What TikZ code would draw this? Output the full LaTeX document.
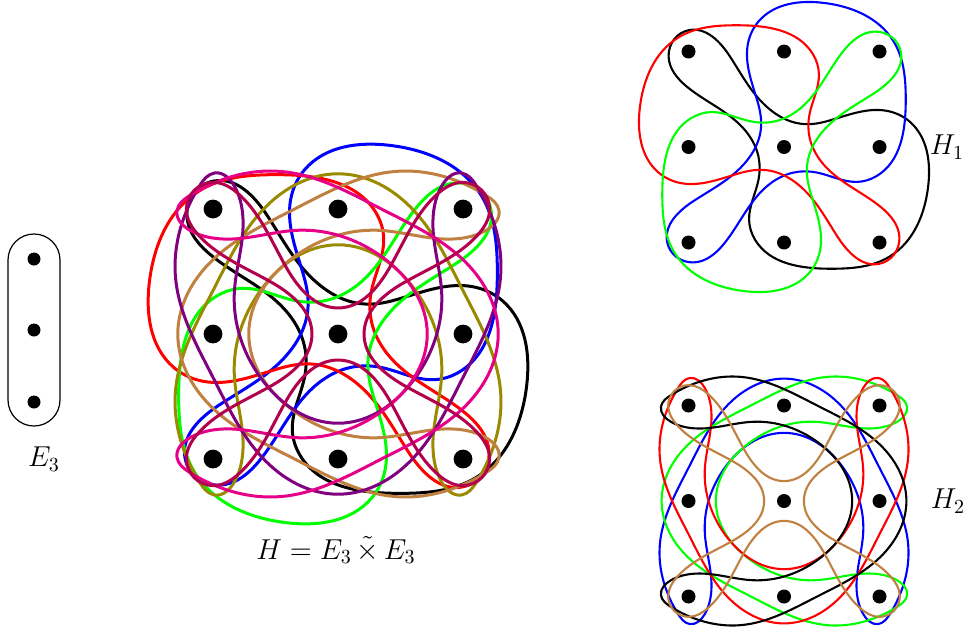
\documentclass[tikz,border=0pt]{standalone}
\usetikzlibrary{hobby}
\definecolor{hgreen}{RGB}{0,255,0}
\definecolor{holive}{RGB}{153,138,0}
\definecolor{hbrown}{RGB}{191,128,64}
\definecolor{hpurple}{RGB}{128,0,128}
\definecolor{hpink}{RGB}{230,0,135}
\definecolor{hcrimson}{RGB}{179,0,77}
\tikzset{
  loopline/.style={use Hobby shortcut,closed=true},
  smalldot/.style={circle,fill=black,inner sep=0pt,minimum size=7pt},
  bigdot/.style={circle,fill=black,inner sep=0pt,minimum size=9.4pt},
  tinydot/.style={circle,fill=black,inner sep=0pt,minimum size=6.5pt},
  lab/.style={inner sep=0pt,font=\fontsize{14}{16}\selectfont},
}
\newcommand\hoopA[2]{\draw[#1,rotate=#2,loopline] (-1,1.223)..(-.564,.944)..(-.268,.509)..(.22,.24)..(.55,.3)..(1.073,.38)..(1.317,.265)..(1.509,-.415)..(1.108,-1.146)..(.481,-1.275)..(-.303,-.972)..(-.366,-.763)..(-.268,-.345)..(-.268,-.1)..(-.425,.195)..(-1.017,.631)..(-1.209,.95);}
\newcommand\hoopB[2]{\draw[#1,rotate=#2,loopline] (0,1.282)..(.55,1.045)..(1,.348)..(1.3,-.453)..(1.108,-1.185)..(.986,-1.289)..(.83,-1.185)..(.76,-.85)..(.83,-.314)..(.62,.348)..(0,.714)..(-.62,.348)..(-.83,-.314)..(-.76,-.85)..(-.83,-1.185)..(-.986,-1.289)..(-1.108,-1.185)..(-1.3,-.453)..(-1,.348)..(-.55,1.045);}
\newcommand\hoopC[1]{\draw[#1,loopline] (0,.209)..(-.408,.523)..(-.79,1.115)..(-1,1.213)..(-1.213,1)..(-1.115,.79)..(-.523,.408)..(-.209,0)..(-.523,-.408)..(-1.115,-.79)..(-1.213,-1)..(-1,-1.213)..(-.79,-1.115)..(-.408,-.523)..(0,-.209)..(.408,-.523)..(.79,-1.115)..(1,-1.213)..(1.213,-1)..(1.115,-.79)..(.523,-.408)..(.209,0)..(.523,.408)..(1.115,.79)..(1.213,1)..(1,1.213)..(.79,1.115)..(.408,.523);}
\begin{document}
\begin{tikzpicture}[x=.5pt,y=.5pt,line join=round]
\useasboundingbox (0,0) rectangle (967,634);
% E3
\draw[line width=.6pt,rounded corners=13pt] (8,208) rectangle (60,400);
\node[tinydot] (e1) at (34,375) {};
\node[tinydot] (e2) at (34,304) {};
\node[tinydot] (e3) at (34,232) {};
\node[lab] (le) at (44,175) {$E_3$};
% H
\begin{scope}[shift={(338,300)},scale=125,line width=1.5pt]
\hoopA{black}{0}
\hoopA{blue}{90}
\hoopA{red}{180}
\hoopA{hgreen}{270}
\hoopB{holive}{0}
\hoopB{hbrown}{90}
\hoopB{hpurple}{180}
\hoopB{hpink}{270}
\hoopC{hcrimson}
\foreach \i in {-1,0,1} \foreach \j in {-1,0,1}
  \node[bigdot] (h\i\j) at (\i,\j) {};
\end{scope}
\node[lab] (lh) at (336,84) {$H=E_3\,\tilde{\times}\,E_3$};
% H1
\begin{scope}[shift={(784,487)},scale=95.5,line width=1.05pt]
\hoopA{black}{0}
\hoopA{blue}{90}
\hoopA{red}{180}
\hoopA{hgreen}{270}
\foreach \i in {-1,0,1} \foreach \j in {-1,0,1}
  \node[smalldot] (a\i\j) at (\i,\j) {};
\end{scope}
\node[lab] (la) at (947,487) {$H_1$};
% H2
\begin{scope}[shift={(784,133)},scale=95.5,line width=1.05pt]
\hoopB{blue}{0}
\hoopB{hgreen}{90}
\hoopB{red}{180}
\hoopB{black}{270}
\hoopC{hbrown}
\foreach \i in {-1,0,1} \foreach \j in {-1,0,1}
  \node[smalldot] (b\i\j) at (\i,\j) {};
\end{scope}
\node[lab] (lb) at (948,133) {$H_2$};
\end{tikzpicture}
\end{document}
